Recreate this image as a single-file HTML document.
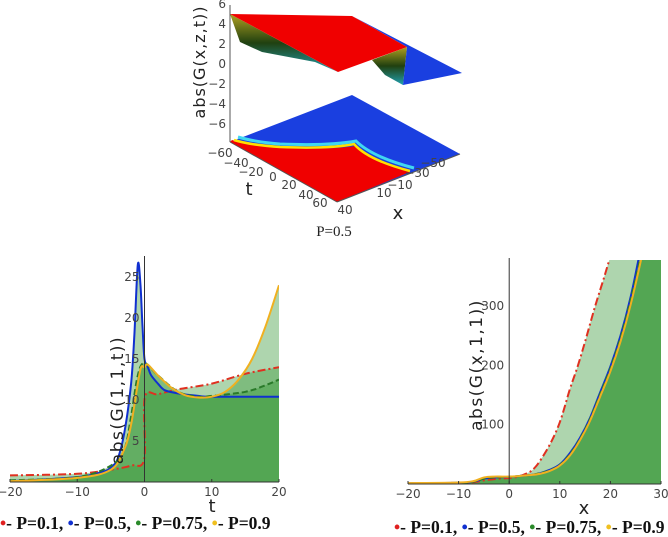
<!DOCTYPE html>
<html><head><meta charset="utf-8">
<style>
html,body{margin:0;padding:0;background:#fff;}
svg{display:block;font-family:"DejaVu Sans","Liberation Sans",sans-serif;}
.tk{font-size:12px;fill:#444;}
.lg{font-family:"Liberation Serif",serif;font-weight:bold;font-size:17.5px;fill:#111;}
</style></head>
<body>
<svg id="root" width="668" height="537" viewBox="0 0 668 537">
 <g>
  <polygon points="230,142 352,95 460,154 337,202" fill="#1a3fe0"/>
  <path d="M230,142 L337,202 L410,172 Q370,160 356,146 Q330,150 280,148 Q250,145 232,140 Z" fill="#f00000"/>
  <path d="M234,140 Q250,145 280,147 Q330,149 354,144 Q368,160 410,171" fill="none" stroke="#ffe000" stroke-width="2.5"/>
  <path d="M238,137 Q255,142 280,144 Q330,146 356,141 Q372,157 414,168" fill="none" stroke="#40d8f0" stroke-width="3"/>
  <defs><linearGradient id="ug" x1="0" y1="0" x2="0" y2="1"><stop offset="0" stop-color="#b0a020"/><stop offset="0.5" stop-color="#204010"/><stop offset="1" stop-color="#20a0b0"/></linearGradient></defs>
  <polygon points="230,14 240,42 262,52 315,62 338,72" fill="url(#ug)"/>
  <polygon points="407,47 403,85 385,75 372,60" fill="url(#ug)"/>
  <polygon points="352,16 462,73 403,85 407,47" fill="#1a3fe0"/>
  <polygon points="230,14 352,16 407,47 338,72" fill="#f00000"/>
  <line x1="230" y1="5" x2="230" y2="142" stroke="#555"/>
  <g class="tk" text-anchor="end">
   <text x="226" y="8">6</text><text x="226" y="28">4</text><text x="226" y="48">2</text><text x="226" y="68">0</text><text x="226" y="88">−2</text><text x="226" y="108">−4</text><text x="226" y="128">−6</text>
  </g>
  <text transform="translate(205,62) rotate(-90)" text-anchor="middle" font-size="16" letter-spacing="1" fill="#222">abs(G(x,z,t))</text>
  <line x1="230" y1="142" x2="337" y2="202" stroke="#555"/>
  <line x1="337" y1="202" x2="460" y2="154" stroke="#555"/>
  <g class="tk" text-anchor="middle">
   <text x="220" y="157">−60</text><text x="236" y="167">−40</text><text x="251" y="176">−20</text><text x="273" y="181">0</text><text x="289" y="189">20</text><text x="306" y="199">40</text><text x="320" y="207">60</text>
  </g>
  <text x="249" y="195" font-size="18" fill="#222" text-anchor="middle">t</text>
  <g class="tk" text-anchor="middle">
   <text x="345" y="214">40</text><text x="384" y="197">10</text><text x="400" y="189">−10</text><text x="417" y="177">−30</text><text x="433" y="167">−50</text>
  </g>
  <text x="398" y="219" font-size="18" fill="#222" text-anchor="middle">x</text>
  <text x="334" y="236" font-family="Liberation Serif,serif" font-size="15" fill="#222" text-anchor="middle">P=0.5</text>
 </g>
 <g id="left"></g>
 <g id="right"></g>
</svg>
<script>
// Left chart data: abs(G(1,1,t))
const tRed = [-20,-10,-5,-2,-0.05,0.05,2,5,10,15,20];
const vRed = [0.8,1.0,1.5,2.0,2.8,10.3,10.7,11.3,12.0,13.2,14.0];
const tBlue = [-20,-10,-6,-5,-4,-3,-2,-1.5,-1,-0.6,-0.3,0,0.5,1,2,3,5,8,10,20];
const vBlue = [0.1,0.6,1.3,1.8,2.8,6,12,18,26.5,24,19,15,14,13,12,11.2,10.8,10.5,10.4,10.4];
const tGreen = [-20,-10,-5,-3,-2,-1,0,2,5,8,10,15,18,20];
const vGreen = [0.2,0.6,2,4,8,13,14.5,13,11,10.4,10.5,11,11.8,12.5];
const tYel = [-20,-10,-5,-3,-2,-1,-0.5,0,0.5,2,4,6,8,10,12,14,16,18,20];
const vYel = [0.1,0.5,1.5,4,7,12,14,14,14.3,13,11.5,10.6,10.3,10.4,11,12.5,15,19,24];
const leftXTicks = [-20,-10,0,10,20];
const leftYTicks = [5,10,15,20,25];
// Right chart data: abs(G(x,1,1))
const xRed = [-20,-10,-7,-5,-2,0,2,4,5,6,8,10,12,13.6,15,17,19,20.5,22];
const wRed = [1,2,3,6,9,10,13,20,27,38,66,104,160,200,240,300,355,400,450];
const xBlue = [-20,-10,-7,-5,-3,0,2,4,6,8,10,12,14,16,18,20,22,24,25.5,26.5];
const wBlue = [1,2,4,9,11,12,13.5,15,18,24,33,52,78,112,155,198,250,315,376,420];
const xGreen = [-20,-10,-7,-5,-3,0,2,4,6,8,10,12,14,16,18,20,22,24,25.8,26.8];
const wGreen = [1,2,4,9,11,12,13.5,15,18,23,32,50,76,110,152,195,246,310,376,420];
const xYel = [-20,-10,-7,-5,-3,0,2,4,6,8,10,12,14,16,18,20,22,24,26,27];
const wYel = [1.5,2.5,5,11,12.5,12.5,13.5,15,17,22,31,48,74,107,148,190,240,302,376,420];
const rightXTicks = [-20,-10,0,10,20,30];
const rightYTicks = [100,200,300];

const NS='http://www.w3.org/2000/svg';
function mk(parent,tag,attrs){const e=document.createElementNS(NS,tag);for(const k in attrs)e.setAttribute(k,attrs[k]);parent.appendChild(e);return e;}
function smooth(p){
  let d='';
  for(let i=0;i<p.length-1;i++){
    const p0=p[Math.max(i-1,0)],p1=p[i],p2=p[i+1],p3=p[Math.min(i+2,p.length-1)];
    const c1=[p1[0]+(p2[0]-p0[0])/6,p1[1]+(p2[1]-p0[1])/6];
    const c2=[p2[0]-(p3[0]-p1[0])/6,p2[1]-(p3[1]-p1[1])/6];
    d+=' C'+c1[0].toFixed(1)+','+c1[1].toFixed(1)+' '+c2[0].toFixed(1)+','+c2[1].toFixed(1)+' '+p2[0].toFixed(1)+','+p2[1].toFixed(1);
  }
  return d;
}
function plot(g,cfg){
  const sx=v=>cfg.x0+(v-cfg.xmin)*(cfg.x1-cfg.x0)/(cfg.xmax-cfg.xmin);
  const sy=v=>cfg.y0-v*(cfg.y0-cfg.y1)/(cfg.ymax);
  const cid='clip'+cfg.id;
  const defs=mk(g,'defs',{});
  const cp=mk(defs,'clipPath',{id:cid});
  mk(cp,'rect',{x:cfg.x0,y:cfg.top,width:cfg.x1-cfg.x0,height:cfg.y0-cfg.top});
  const cg=mk(g,'g',{'clip-path':'url(#'+cid+')'});
  
  
  const paths=cfg.series.map(s=>s.x.map((v,i)=>[sx(v),sy(s.y[i])]));
  cfg.series.forEach((s,k)=>{
    const p=paths[k];
    const d='M'+p[0][0]+','+cfg.y0+' L'+p[0][0].toFixed(1)+','+p[0][1].toFixed(1)+smooth(p)+' L'+(cfg.x1+5)+','+(cfg.top-5)+' L'+(cfg.x1+5)+','+cfg.y0+' Z';
    const fp=mk(cg,'path',{d:d,fill:'#3e9c3e','fill-opacity':'0.42'});
    
    
  });
  cfg.series.forEach((s,k)=>{
    const p=paths[k];
    const pl=mk(cg,'path',{d:'M'+p[0][0].toFixed(1)+','+p[0][1].toFixed(1)+smooth(p),fill:'none',stroke:s.color,'stroke-width':2,'stroke-dasharray':s.dash||'none'});
    
    
  });
  const ax=mk(g,'line',{x1:cfg.x0,y1:cfg.y0,x2:cfg.x1,y2:cfg.y0,stroke:'#333'});
  
  
  const ay=mk(g,'line',{x1:sx(0),y1:cfg.top-2,x2:sx(0),y2:cfg.y0,stroke:'#333'});
  
  
  cfg.xt.forEach(v=>{
    const t=mk(g,'text',{x:sx(v),y:cfg.y0+14,'text-anchor':'middle',class:'tk'});
    t.textContent=v<0?'−'+(-v):String(v);
    
    
    mk(g,'line',{x1:sx(v),y1:cfg.y0,x2:sx(v),y2:cfg.y0-3,stroke:'#333'});
  });
  cfg.yt.forEach(v=>{
    const t=mk(g,'text',{x:sx(0)-5,y:sy(v)+4,'text-anchor':'end',class:'tk'});
    t.textContent=String(v);
    
    
  });
  const xt=mk(g,'text',{x:cfg.xtx,y:cfg.y0+30,'text-anchor':'middle','font-size':18,fill:'#222'});
  xt.textContent=cfg.xlabel;
  
  
  const yt=mk(g,'text',{transform:'translate('+cfg.ytx+','+cfg.yty+') rotate(-90)','text-anchor':'middle','font-size':17,'letter-spacing':'1.5',fill:'#222'});
  yt.textContent=cfg.ylabel;
  
  
  const lg=mk(g,'text',{x:cfg.lgx,y:cfg.lgy,class:'lg'});
  
  
  const cols=['#e02020','#1030d0','#2a8a2a','#f0c020'];
  const labs=['P=0.1, ','P=0.5, ','P=0.75, ','P=0.9'];
  labs.forEach((l,i)=>{
    const d=mk(lg,'tspan',{fill:cols[i]});d.textContent='•';
    const r=mk(lg,'tspan',{});r.textContent='- '+l;
  });
}
const series=(a,b,c,d,e,f,g,h)=>[
 {name:'p01',x:a,y:b,color:'#e03020',dash:'8,3,2,3'},
 {name:'p05',x:c,y:d,color:'#1030d0'},
 {name:'p075',x:e,y:f,color:'#2a7a2a',dash:'6,3'},
 {name:'p09',x:g,y:h,color:'#f0b020'}];
plot(document.getElementById('left'),{id:'L',xmin:-20,xmax:20,x0:10,x1:279,y0:482,y1:277,ymax:25,top:258,
 series:series(tRed,vRed,tBlue,vBlue,tGreen,vGreen,tYel,vYel),xt:leftXTicks,yt:leftYTicks,
 xlabel:'t',xtx:212,ylabel:'abs(G(1,1,t))',ytx:123,yty:400,lgx:0,lgy:529});
plot(document.getElementById('right'),{id:'R',xmin:-20,xmax:30,x0:408,x1:661,y0:484,y1:306,ymax:300,top:260,
 series:series(xRed,wRed,xBlue,wBlue,xGreen,wGreen,xYel,wYel),xt:rightXTicks,yt:rightYTicks,
 xlabel:'x',xtx:584,ylabel:'abs(G(x,1,1))',ytx:482,yty:365,lgx:394,lgy:533});
</script>
</body></html>
